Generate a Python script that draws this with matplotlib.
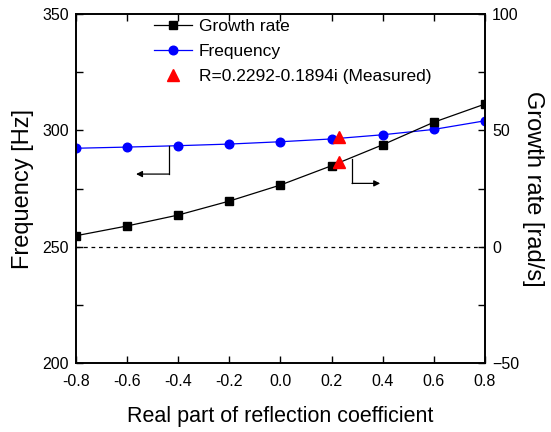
import numpy as np
import matplotlib
matplotlib.use('Agg')
from matplotlib import pyplot as plt

plt.rcParams['font.family'] = ['Liberation Sans', 'DejaVu Sans']

# real part of reflection coefficient
refl = [-0.8, -0.6, -0.4, -0.2, 0.0, 0.2, 0.4, 0.6, 0.8]
freq = [292.3, 292.8, 293.4, 294.1, 295.1, 296.3, 298.1, 300.4, 304.1]
growth = [4.7, 8.9, 13.6, 19.6, 26.5, 34.8, 43.8, 53.5, 61.3]
xlabels = ['-0.8', '-0.6', '-0.4', '-0.2', '0.0', '0.2', '0.4', '0.6', '0.8']

# measured case R = 0.2292 - 0.1894i
meas_x = 0.2292
meas_freq = 297.0
meas_growth = 36.4

fig = plt.figure(figsize=(5.51, 4.32), dpi=100)
ax = fig.add_axes([0.1379, 0.1597, 0.7423, 0.8079])
ax2 = ax.twinx()

ax.axhline(250, color='k', lw=0.9, ls=(0, (3, 3)))
l_freq, = ax.plot(refl, freq, color='#0000ff', lw=0.9, marker='o', ms=6.2,
                  label='Frequency')
ax.plot([meas_x], [meas_freq], ls='none', marker='^', ms=9, color='#ff0000')

l_gr, = ax2.plot(refl, growth, color='k', lw=0.9, marker='s', ms=5.2,
                 label='Growth rate')
l_meas, = ax2.plot([meas_x], [meas_growth], ls='none', marker='^', ms=9,
                   color='#ff0000', label='R=0.2292-0.1894i (Measured)')

# arrows showing which axis each curve belongs to
ax.plot([-0.437, -0.437], [293.4, 281.2], color='k', lw=0.9)
ax.annotate('', xy=(-0.565, 281.2), xytext=(-0.436, 281.2),
            arrowprops=dict(arrowstyle='-|>', color='k', lw=0.9,
                            mutation_scale=9, shrinkA=0, shrinkB=0))
ax2.plot([0.281, 0.281], [37.5, 27.2], color='k', lw=0.9)
ax2.annotate('', xy=(0.39, 27.2), xytext=(0.28, 27.2),
             arrowprops=dict(arrowstyle='-|>', color='k', lw=0.9,
                             mutation_scale=9, shrinkA=0, shrinkB=0))

ax.set_xlim(-0.8, 0.8)
ax.set_ylim(200, 350)
ax2.set_ylim(-50, 100)
ax.set_xticks(refl)
ax.set_xticklabels(xlabels)
ax.set_yticks([200, 250, 300, 350])
ax.set_yticks([225, 275, 325], minor=True)
ax2.set_yticks([-50, 0, 50, 100])
ax2.set_yticks([-25, 25, 75], minor=True)

for a in (ax, ax2):
    a.tick_params(which='both', direction='in', length=5, width=1,
                  labelsize=11.5, pad=5)
    for s in a.spines.values():
        s.set_linewidth(1.2)
ax.tick_params(top=True)
ax.tick_params(axis='x', pad=8)

ax.set_xlabel('Real part of reflection coefficient', fontsize=15.5, labelpad=12)
ax.set_ylabel('Frequency [Hz]', fontsize=17, labelpad=6)
ax2.set_ylabel('Growth rate [rad/s]', fontsize=17, rotation=270, labelpad=18)

ax2.legend(handles=[l_gr, l_freq, l_meas], loc='upper left',
           bbox_to_anchor=(0.19, 0.985), frameon=False, fontsize=12.5,
           handlelength=2.2, handletextpad=0.4, labelspacing=0.55,
           borderpad=0, borderaxespad=0)

fig.savefig('out.png', dpi=100)
